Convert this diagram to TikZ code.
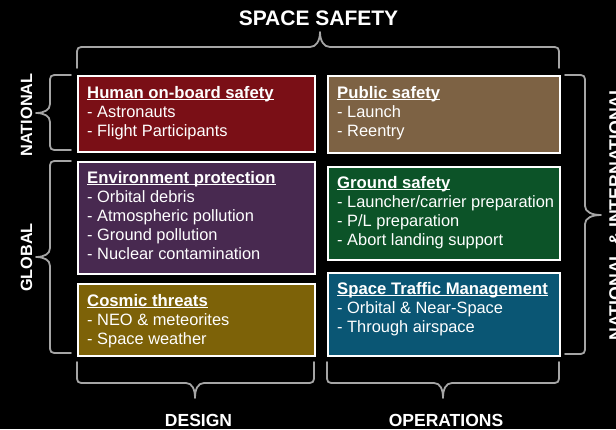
\documentclass[tikz,border=0pt]{standalone}
\usepackage{fontspec}
\setmainfont{Liberation Sans}
\definecolor{cHuman}{RGB}{122,15,22}
\definecolor{cEnv}{RGB}{72,41,80}
\definecolor{cCosmic}{RGB}{125,98,8}
\definecolor{cPublic}{RGB}{125,98,68}
\definecolor{cGround}{RGB}{12,83,40}
\definecolor{cSTM}{RGB}{10,86,116}
\definecolor{braceGray}{RGB}{165,165,165}
\newcommand\myul[1]{\leavevmode\sbox0{#1}\rlap{\rule[-1.9pt]{\wd0}{1.3pt}}\usebox0}
\tikzset{
  cbox/.style={draw=white, line width=2.2pt, anchor=north west, inner sep=0pt},
  brace/.style={draw=braceGray, line width=1.8pt, line cap=round, line join=round},
  body/.style={text=white, anchor=base west, inner sep=0pt, font=\fontsize{16.4}{19}\selectfont},
  lbl/.style={text=white, inner sep=0pt, anchor=base, font=\bfseries\fontsize{17.5}{20}\selectfont},
}
\newcommand\ttl[1]{\myul{\bfseries\fontsize{16.7}{19}\selectfont #1}}
\begin{document}
\begin{tikzpicture}[x=1pt,y=-1pt]
\useasboundingbox (0,0) rectangle (616,429);
\fill[black] (0,0) rectangle (616,429);

% boxes
\node[cbox, fill=cHuman, minimum width=237pt, minimum height=76pt] (hb) at (77,75) {};
\node[cbox, fill=cEnv, minimum width=237pt, minimum height=112pt] (env) at (77,161) {};
\node[cbox, fill=cCosmic, minimum width=237pt, minimum height=72pt] (cos) at (77,283) {};
\node[cbox, fill=cPublic, minimum width=232pt, minimum height=77pt] (pub) at (327,75) {};
\node[cbox, fill=cGround, minimum width=232pt, minimum height=93pt] (gnd) at (327,166) {};
\node[cbox, fill=cSTM, minimum width=232pt, minimum height=83pt] (stm) at (327,272) {};

% box texts
\node[body] (hbt) at (87,98) {\parbox[t]{222pt}{\ttl{Human on-board safety}\\- Astronauts\\- Flight Participants}};
\node[body] (envt) at (87,183.5) {\parbox[t]{222pt}{\ttl{Environment protection}\\- Orbital debris\\- Atmospheric pollution\\- Ground pollution\\- Nuclear contamination}};
\node[body] (cost) at (87,306) {\parbox[t]{222pt}{\ttl{Cosmic threats}\\- NEO \& meteorites\\- Space weather}};
\node[body] (pubt) at (337,98) {\parbox[t]{222pt}{\ttl{Public safety}\\- Launch\\- Reentry}};
\node[body] (gndt) at (337,188) {\parbox[t]{222pt}{\ttl{Ground safety}\\- Launcher/carrier preparation\\- P/L preparation\\- Abort landing support}};
\node[body] (stmt) at (337,294) {\parbox[t]{222pt}{\ttl{Space Traffic Management}\\- Orbital \& Near-Space\\- Through airspace}};

% top brace
\draw[brace] (77,68) -- (77,56) .. controls (77,47) .. (86,47) -- (310,47)
  .. controls (316,47) and (320,41) .. (320,32) .. controls (320,41) and (324,47) .. (330,47)
  -- (550,47) .. controls (559,47) .. (559,56) -- (559,68);
% bottom braces
\draw[brace] (77,362) -- (77,374) .. controls (77,383) .. (86,383) -- (186,383)
  .. controls (192,383) and (195,389) .. (195,398) .. controls (195,389) and (198,383) .. (204,383)
  -- (305,383) .. controls (314,383) .. (314,374) -- (314,362);
\draw[brace] (327,362) -- (327,374) .. controls (327,383) .. (336,383) -- (434,383)
  .. controls (440,383) and (443,389) .. (443,398) .. controls (443,389) and (446,383) .. (452,383)
  -- (550,383) .. controls (559,383) .. (559,374) -- (559,362);
% left braces
\draw[brace] (71,75) -- (59,75) .. controls (50,75) .. (50,84) -- (50,104)
  .. controls (50,110) and (44,113) .. (36,113) .. controls (44,113) and (50,116) .. (50,122)
  -- (50,141) .. controls (50,150) .. (59,150) -- (71,150);
\draw[brace] (71,161) -- (59,161) .. controls (50,161) .. (50,170) -- (50,248)
  .. controls (50,254) and (44,257) .. (36,257) .. controls (44,257) and (50,260) .. (50,266)
  -- (50,344) .. controls (50,353) .. (59,353) -- (71,353);
% right brace
\draw[brace] (565,75) -- (576,75) .. controls (585,75) .. (585,84) -- (585,206)
  .. controls (585,212) and (592,215) .. (601,215) .. controls (592,215) and (585,218) .. (585,224)
  -- (585,345) .. controls (585,354) .. (576,354) -- (565,354);

% labels
\node[lbl, font=\bfseries\fontsize{21}{24}\selectfont] (ss) at (318.5,25) {SPACE SAFETY};
\node[lbl] (des) at (198.5,426) {DESIGN};
\node[lbl] (ops) at (446,426) {OPERATIONS};
\node[lbl, rotate=90, font=\bfseries\fontsize{16.3}{20}\selectfont] (nat) at (32,115) {NATIONAL};
\node[lbl, rotate=90, font=\bfseries\fontsize{16.3}{20}\selectfont] (glo) at (32,257.5) {GLOBAL};
\node[lbl, rotate=90, font=\bfseries\fontsize{17.7}{20}\selectfont] (natint) at (621.7,212.5) {NATIONAL \& INTERNATIONAL};
\end{tikzpicture}
\end{document}
